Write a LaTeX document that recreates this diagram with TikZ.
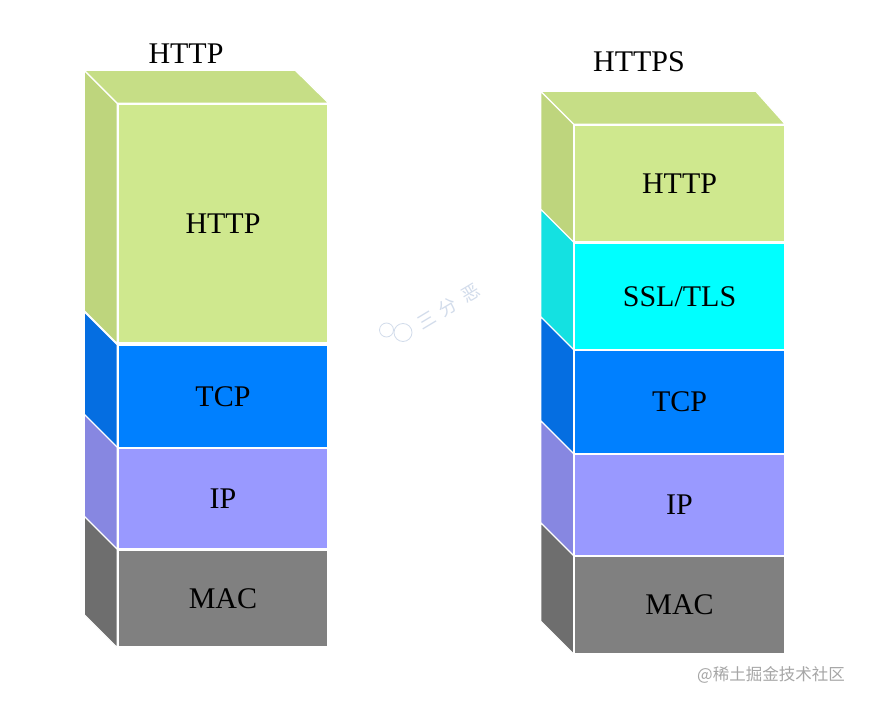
\documentclass[tikz,border=0pt]{standalone}
\usepackage{fontspec}
\setmainfont{Liberation Serif}
\newfontfamily\cjkfont{Noto Sans CJK SC}
\usetikzlibrary{calc}
\definecolor{httpF}{RGB}{207,232,142}
\definecolor{httpS}{RGB}{190,213,125}
\definecolor{httpT}{RGB}{198,222,134}
\definecolor{tcpF}{RGB}{0,128,255}
\definecolor{tcpS}{RGB}{5,110,225}
\definecolor{sslF}{RGB}{0,255,255}
\definecolor{sslS}{RGB}{20,225,225}
\definecolor{ipF}{RGB}{153,153,255}
\definecolor{ipS}{RGB}{135,135,225}
\definecolor{macF}{RGB}{128,128,128}
\definecolor{macS}{RGB}{110,110,110}
\definecolor{wmark}{RGB}{210,220,235}
\tikzset{
  layer/.style={draw=white, line width=1.5pt, minimum width=210pt, inner sep=0pt,
    font=\fontsize{30}{32}\selectfont},
  sideface/.style={draw=white, line width=1.2pt, line join=round},
  title/.style={font=\fontsize{30}{32}\selectfont, inner sep=0pt},
  wmchar/.style={text=wmark, rotate=31, font=\cjkfont\fontsize{18}{18}\selectfont, inner sep=0pt}
}
\newcommand{\sidepath}[2]{%
  \filldraw[sideface, fill=#2] (#1.south west) -- (#1.north west) -- ++(-33,-33)
    -- ($(#1.south west)+(-33,-33)$) -- cycle;}
\begin{document}
\begin{tikzpicture}[x=1pt, y=-1pt]
\fill[white] (0,0) rectangle (872,706);
\useasboundingbox (0,0) rectangle (872,706);

% ---------- left stack (HTTP) ----------
\node[layer, fill=httpF, minimum height=239pt] (lhttp) at (223,223.5) {HTTP};
\node[layer, fill=tcpF,  minimum height=102pt] (ltcp)  at (223,396.5) {TCP};
\node[layer, fill=ipF,   minimum height=101pt] (lip)   at (223,498.5) {IP};
\node[layer, fill=macF,  minimum height=97pt]  (lmac)  at (223,598.5) {MAC};
\sidepath{lhttp}{httpS}
\sidepath{ltcp}{tcpS}
\sidepath{lip}{ipS}
\sidepath{lmac}{macS}
\filldraw[sideface, fill=httpT] (lhttp.north west) -- ++(-33,-33) -- ++(211,0)
    -- (lhttp.north east) -- cycle;
\node[title] (ltitle) at (186,54) {HTTP};

% ---------- right stack (HTTPS) ----------
\begin{scope}[every node/.append style={minimum width=215pt}]
\node[layer, fill=httpF, minimum height=117pt] (rhttp) at (679.5,183.5) {HTTP};
\node[layer, fill=sslF,  minimum height=107pt] (rssl)  at (679.5,296.5) {SSL/TLS};
\node[layer, fill=tcpF,  minimum height=103pt] (rtcp)  at (679.5,402)   {TCP};
\node[layer, fill=ipF,   minimum height=101pt] (rip)   at (679.5,505)   {IP};
\node[layer, fill=macF,  minimum height=97pt]  (rmac)  at (679.5,605)   {MAC};
\end{scope}
\sidepath{rhttp}{httpS}
\sidepath{rssl}{sslS}
\sidepath{rtcp}{tcpS}
\sidepath{rip}{ipS}
\sidepath{rmac}{macS}
\filldraw[sideface, fill=httpT] (rhttp.north west) -- ++(-33,-33) -- ++(215,0)
    -- (rhttp.north east) -- cycle;
\node[title] (rtitle) at (639,62) {HTTPS};

% ---------- watermarks ----------
\draw[wmark, line width=0.8pt] (386.5,330) circle (7);
\draw[wmark, line width=0.8pt] (403,332.5) circle (9);
\node[wmchar] (wm1a) at (427,320) {三};
\node[wmchar] (wm1b) at (448,307) {分};
\node[wmchar] (wm1c) at (471,293) {恶};
\node[text=black!35, font=\cjkfont\fontsize{16.5}{17}\selectfont, inner sep=0pt]
  (wm2) at (771,675) {@稀土掘金技术社区};
\end{tikzpicture}
\end{document}
